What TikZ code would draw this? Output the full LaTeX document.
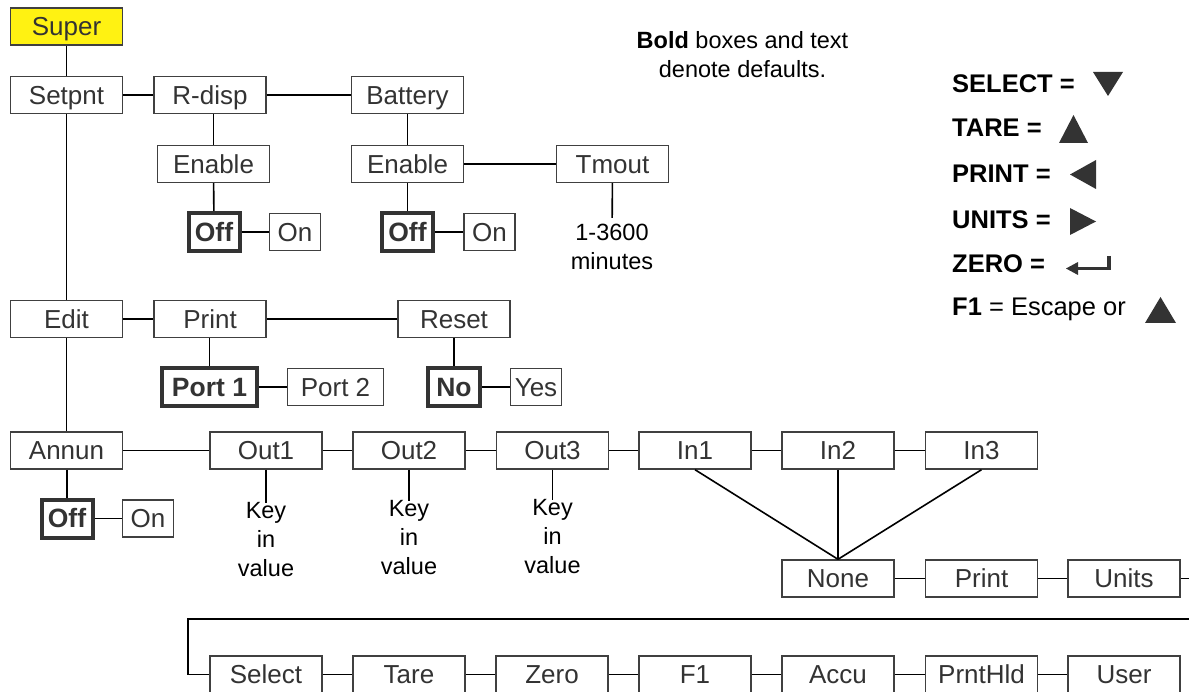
\documentclass[tikz,border=0pt]{standalone}
\usepackage{fontspec}
\setmainfont{Liberation Sans}
\definecolor{boxc}{HTML}{404040}
\definecolor{boldc}{HTML}{333333}
\definecolor{txtc}{HTML}{333333}
\definecolor{supery}{RGB}{255,242,18}
\begin{document}
\begin{tikzpicture}[x=1pt,y=-1pt,
  box/.style={draw=boxc, line width=1.4pt, fill=white, minimum height=37pt, minimum width=112pt, inner sep=0pt, text=txtc, font=\fontsize{26}{30}\selectfont, text height=18.6pt, text depth=0pt},
  boldbox/.style={box, line width=4pt, draw=boldc, minimum height=38pt, font=\fontsize{26.5}{30}\selectfont\bfseries},
  ln/.style={line width=1.6pt, black},
  lbl/.style={font=\fontsize{23.5}{29}\selectfont, align=center, text=black, inner sep=0pt},
  leg/.style={font=\fontsize{25.5}{30}\selectfont, anchor=west, inner sep=0pt, text=black},
  tri/.style={fill=txtc, draw=none}]
\useasboundingbox (0,0) rectangle (1189,692);
\clip (0,0) rectangle (1189,692);

% nodes
\node[box, fill=supery] (super) at (66.5,26.5) {Super};
\node[box] (setpnt) at (66.5,95) {Setpnt};
\node[box] (rdisp) at (210,95) {R-disp};
\node[box] (battery) at (407.5,95) {Battery};
\node[box] (en1) at (213.5,164) {Enable};
\node[box] (en2) at (407.5,164) {Enable};
\node[boldbox, minimum width=51pt] (off1) at (214,232) {Off};
\node[box, minimum width=51pt] (on1) at (295,232) {On};
\node[boldbox, minimum width=51pt] (off2) at (407.5,232) {Off};
\node[box, minimum width=51pt] (on2) at (489.5,232) {On};
\node[box] (tmout) at (612.5,164) {Tmout};
\node[lbl] (tmlbl) at (612,247) {1-3600\\minutes};

\node[box] (edit) at (66.5,319) {Edit};
\node[box] (print) at (210,319) {Print};
\node[box] (reset) at (454,319) {Reset};
\node[boldbox, minimum width=95pt] (port1) at (209.5,387) {Port 1};
\node[box, minimum width=96pt] (port2) at (335.5,387) {Port 2};
\node[boldbox, minimum width=52pt] (no) at (454,387) {No};
\node[box, minimum width=51pt] (yes) at (536,387) {Yes};

\node[box] (annun) at (66.5,450.5) {Annun};
\node[box] (out1) at (266,450.5) {Out1};
\node[box] (out2) at (409,450.5) {Out2};
\node[box] (out3) at (552.5,450.5) {Out3};
\node[box] (in1) at (695,450.5) {In1};
\node[box] (in2) at (838,450.5) {In2};
\node[box] (in3) at (981.5,450.5) {In3};
\node[boldbox, minimum width=51pt] (off3) at (67,518.5) {Off};
\node[box, minimum width=51pt] (on3) at (148,518.5) {On};
\node[lbl] (key1) at (266,540) {Key\\in\\value};
\node[lbl] (key2) at (409,538) {Key\\in\\value};
\node[lbl] (key3) at (552.5,537) {Key\\in\\value};

\node[box] (none) at (838,578.5) {None};
\node[box] (print2) at (981.5,578.5) {Print};
\node[box] (units) at (1124,578.5) {Units};

\node[box] (select) at (266,674.5) {Select};
\node[box] (tare) at (409,674.5) {Tare};
\node[box] (zero) at (552,674.5) {Zero};
\node[box] (fone) at (695,674.5) {F1};
\node[box] (accu) at (838,674.5) {Accu};
\node[box] (prnthld) at (981.5,674.5) {PrntHld};
\node[box] (user) at (1124,674.5) {User};

\coordinate (edgeA) at (1200,578.5);
\coordinate (edgeB) at (1200,619);
\coordinate (wrapT) at (188,619);
\coordinate (wrapB) at (188,674.5);

% connectors
\draw[ln] (super) -- (setpnt);
\draw[ln] (setpnt) -- (edit);
\draw[ln] (edit) -- (annun);
\draw[ln] (setpnt) -- (rdisp);
\draw[ln] (rdisp) -- (battery);
\draw[ln] (rdisp.south -| en1) -- (en1);
\draw[ln] (en1) -- (off1);
\draw[ln] (off1) -- (on1);
\draw[ln] (battery) -- (en2);
\draw[ln] (en2) -- (off2);
\draw[ln] (off2) -- (on2);
\draw[ln] (en2) -- (tmout);
\draw[ln, shorten >=6pt] (tmout) -- (tmlbl);

\draw[ln] (edit) -- (print);
\draw[ln] (print) -- (reset);
\draw[ln] (print.south -| port1) -- (port1);
\draw[ln] (port1) -- (port2);
\draw[ln] (reset) -- (no);
\draw[ln] (no) -- (yes);

\draw[ln] (annun) -- (out1);
\draw[ln] (out1) -- (out2);
\draw[ln] (out2) -- (out3);
\draw[ln] (out3) -- (in1);
\draw[ln] (in1) -- (in2);
\draw[ln] (in2) -- (in3);
\draw[ln] (annun.south -| off3) -- (off3);
\draw[ln] (off3) -- (on3);
\draw[ln] (out1) -- (key1);
\draw[ln] (out2) -- (key2);
\draw[ln] (out3) -- (key3);
\draw[ln] (in1.south) -- (none.north);
\draw[ln] (in2.south) -- (none.north);
\draw[ln] (in3.south) -- (none.north);

\draw[ln] (none) -- (print2);
\draw[ln] (print2) -- (units);
\draw[ln] (units) -- (edgeA);
\draw[ln] (edgeB) -- (wrapT) -- (wrapB) -- (select);
\draw[ln] (select) -- (tare);
\draw[ln] (tare) -- (zero);
\draw[ln] (zero) -- (fone);
\draw[ln] (fone) -- (accu);
\draw[ln] (accu) -- (prnthld);
\draw[ln] (prnthld) -- (user);

% note
\node[lbl] (note) at (742.5,55) {\textbf{Bold} boxes and text\\denote defaults.};

% legend
\node[leg] (lsel) at (952,84) {\bfseries SELECT =};
\fill[tri] (1093,72) -- (1123,72) -- (1108,96) -- cycle;
\node[leg] (ltare) at (952,128) {\bfseries TARE =};
\fill[tri] (1059,143) -- (1088,143) -- (1073.5,115) -- cycle;
\node[leg] (lprint) at (952,174) {\bfseries PRINT =};
\fill[tri] (1096,160) -- (1096,189) -- (1070,174.5) -- cycle;
\node[leg] (lunits) at (952,220) {\bfseries UNITS =};
\fill[tri] (1070,208) -- (1070,235) -- (1096,221.5) -- cycle;
\node[leg] (lzero) at (952,264) {\bfseries ZERO =};
\draw[line width=3.5pt, txtc] (1109,256) -- (1109,268.5) -- (1076,268.5);
\fill[tri] (1066,268.5) -- (1078,262) -- (1078,275) -- cycle;
\node[leg] (lf1) at (952,309) {\textbf{F1} = Escape or};
\fill[tri] (1145,323) -- (1176,323) -- (1160.5,297) -- cycle;
\end{tikzpicture}
\end{document}
